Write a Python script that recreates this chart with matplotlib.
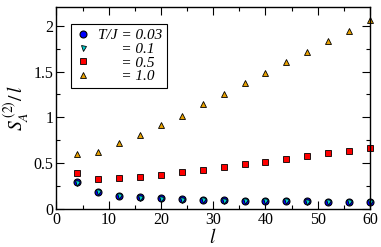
import matplotlib
matplotlib.use("Agg")
import matplotlib.pyplot as plt
from matplotlib.ticker import MultipleLocator

l_vals = [4, 8, 12, 16, 20, 24, 28, 32, 36, 40, 44, 48, 52, 56, 60]
s_003 = [0.29, 0.19, 0.145, 0.13, 0.117, 0.106, 0.098, 0.095, 0.09, 0.087, 0.085, 0.083, 0.08, 0.078, 0.077]
s_01 = [0.285, 0.185, 0.14, 0.125, 0.112, 0.102, 0.095, 0.092, 0.087, 0.084, 0.082, 0.08, 0.078, 0.076, 0.075]
s_05 = [0.39, 0.33, 0.335, 0.35, 0.37, 0.40, 0.425, 0.455, 0.49, 0.515, 0.545, 0.575, 0.61, 0.635, 0.665]
s_10 = [0.60, 0.625, 0.72, 0.81, 0.92, 1.02, 1.145, 1.255, 1.37, 1.48, 1.60, 1.71, 1.83, 1.94, 2.06]
labels = ["T/J = 0.03", "      = 0.1", "      = 0.5", "      = 1.0"]

plt.rcParams['font.family'] = ['Liberation Serif', 'DejaVu Serif']
plt.rcParams['mathtext.fontset'] = 'stix'

fig = plt.figure(figsize=(3.81, 2.47), dpi=100)
ax = fig.add_axes([0.148, 0.154, 0.823, 0.816])

ax.plot(l_vals, s_003, 'o', ms=5.0, mfc='#0000ff', mec='black', mew=0.8, ls='none', label=labels[0], clip_on=False)
ax.plot(l_vals, s_01, 'v', ms=3.6, mfc='#00d0d0', mec='black', mew=0.6, ls='none', label=labels[1], clip_on=False)
ax.plot(l_vals, s_05, 's', ms=4.3, mfc='#ff0000', mec='black', mew=0.6, ls='none', label=labels[2], clip_on=False)
ax.plot(l_vals, s_10, '^', ms=4.6, mfc='#e8a000', mec='black', mew=0.6, ls='none', label=labels[3], clip_on=False)

ax.set_xlim(0, 60)
ax.set_ylim(0, 2.2)
ax.xaxis.set_major_locator(MultipleLocator(10))
ax.xaxis.set_minor_locator(MultipleLocator(5))
ax.yaxis.set_major_locator(MultipleLocator(0.5))
ax.yaxis.set_minor_locator(MultipleLocator(0.25))
ax.set_xticks([0, 10, 20, 30, 40, 50, 60])
ax.set_xticklabels(['0', '10', '20', '30', '40', '50', '60'])
ax.set_yticks([0, 0.5, 1, 1.5, 2])
ax.set_yticklabels(['0', '0.5', '1', '1.5', '2'])
ax.tick_params(which='both', direction='in', top=True, right=True, labelsize=11.5, pad=2)
ax.tick_params(which='major', length=6, width=0.8)
ax.tick_params(which='minor', length=3, width=0.8)
for s in ax.spines.values():
    s.set_linewidth(1.0)

ax.set_xlabel('$l$', fontsize=14, labelpad=0)
ax.set_ylabel('$S_A^{\\,(2)}/\\,l$', fontsize=14, labelpad=2)

leg = ax.legend(loc='upper left', bbox_to_anchor=(0.046, 0.918), borderaxespad=0, frameon=True, fancybox=False,
                edgecolor='black', framealpha=1, handlelength=1.0, handletextpad=0.5,
                borderpad=0.3, labelspacing=0.0, prop={'family': 'Liberation Serif', 'style': 'italic', 'size': 11})
leg.get_frame().set_linewidth(0.8)

fig.savefig('out.png', dpi=100)
